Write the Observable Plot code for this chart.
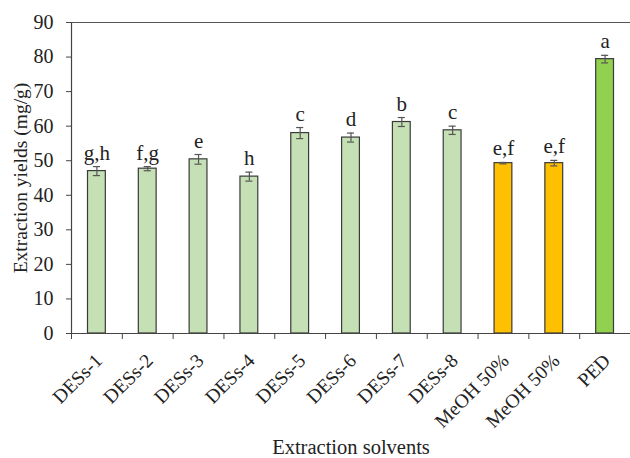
<!DOCTYPE html>
<html><head><meta charset="utf-8">
<script src="https://cdn.jsdelivr.net/npm/d3@7"></script>
<script src="https://cdn.jsdelivr.net/npm/@observablehq/plot@0.6"></script>
<style>body{margin:0;background:#fff}</style>
</head><body><div id="chart"></div>
<script>
const categories = ["DESs-1","DESs-2","DESs-3","DESs-4","DESs-5","DESs-6","DESs-7","DESs-8","MeOH 50%","MeOH 50%","PED"];
const yields = [47.0, 47.7, 50.4, 45.4, 58.0, 56.7, 61.2, 58.8, 49.3, 49.3, 79.4];
const errors = [1.3, 0.6, 1.4, 1.3, 1.6, 1.3, 1.3, 1.2, 0.2, 0.8, 1.1];
const letters = ["g,h","f,g","e","h","c","d","b","c","e,f","e,f","a"];
const groups = ["DES","DES","DES","DES","DES","DES","DES","DES","MeOH","MeOH","PED"];
const yTicks = [0,10,20,30,40,50,60,70,80,90];
const yTitle = "Extraction yields (mg/g)";
const xTitle = "Extraction solvents";

const data = categories.map((c, i) => ({i, c, v: yields[i], e: errors[i], l: letters[i], g: groups[i]}));
const font = "'Liberation Serif', 'Times New Roman', serif";

const chart = Plot.plot({
  width: 630, height: 458,
  marginLeft: 71, marginRight: 0, marginTop: 22, marginBottom: 125,
  style: {fontFamily: font, fontSize: "20px", color: "#222", background: "#fff"},
  x: {type: "linear", domain: [0, 11], axis: null},
  y: {domain: [0, 90], axis: null},
  color: {domain: ["DES","MeOH","PED"], range: ["#c5e0b4","#ffc000","#92d050"]},
  marks: [
    Plot.rectY(data, {x1: "i", x2: d => d.i + 1, y: "v", fill: "g", stroke: "#3a3a3a", strokeWidth: 1.2, insetLeft: 16.5, insetRight: 16.5}),
    Plot.ruleX(data, {x: d => d.i + 0.5, y1: d => d.v - d.e, y2: d => d.v + d.e, stroke: "#555", strokeWidth: 1.2}),
    Plot.ruleY(data, {y: d => d.v + d.e, x1: d => d.i + 0.43, x2: d => d.i + 0.57, stroke: "#555", strokeWidth: 1.2}),
    Plot.ruleY(data, {y: d => d.v - d.e, x1: d => d.i + 0.43, x2: d => d.i + 0.57, stroke: "#555", strokeWidth: 1.2}),
    Plot.text(data, {x: d => d.i + 0.5, y: d => d.v + d.e, text: "l", lineAnchor: "bottom", dy: -7, fontSize: 21, fill: "#222"}),
    Plot.ruleY([90], {stroke: "#555", strokeWidth: 1.2}),
    Plot.ruleY([0], {stroke: "#444", strokeWidth: 1.2}),
    Plot.ruleX([0], {stroke: "#444", strokeWidth: 1.2}),
    Plot.axisY({ticks: yTicks, tickSize: 5, tickPadding: 13, fontSize: 20, stroke: "#444", label: null}),
    Plot.axisX({ticks: d3.range(0, 12), tickFormat: () => "", tickSize: 6, stroke: "#444", label: null}),
    Plot.axisX({ticks: d3.range(0, 11).map(i => i + 0.5), tickFormat: t => categories[Math.floor(t)],
      tickSize: 0, tickRotate: -45, textAnchor: "end", tickPadding: 24, fontSize: 19.5, dx: 2, label: null}),
    Plot.text([yTitle], {frameAnchor: "left", rotate: -90, dx: -51, fontSize: 19.5, textAnchor: "middle", lineAnchor: "middle", fill: "#222"}),
    Plot.text([xTitle], {frameAnchor: "bottom", dy: 114, fontSize: 20.5, textAnchor: "middle", lineAnchor: "middle", fill: "#222"})
  ]
});
document.getElementById("chart").append(chart);
</script>
</body></html>
